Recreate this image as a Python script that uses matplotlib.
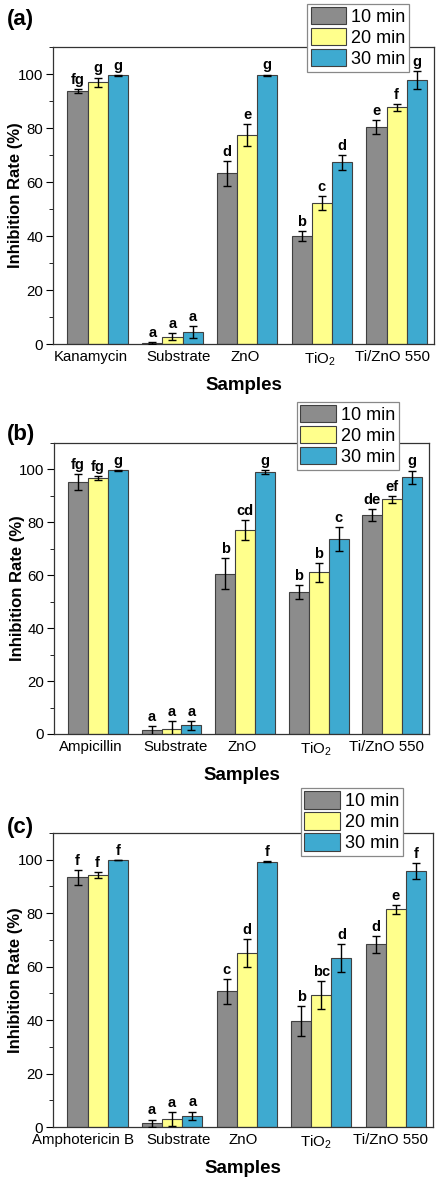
import numpy as np
import matplotlib
matplotlib.use("Agg")
import matplotlib.pyplot as plt
from matplotlib.ticker import MultipleLocator

plt.rcParams['font.family'] = ['Liberation Sans', 'DejaVu Sans']
plt.rcParams['mathtext.fontset'] = 'custom'
plt.rcParams['mathtext.rm'] = 'Liberation Sans'

times = ["10 min", "20 min", "30 min"]
colors = ["#8c8c8c", "#ffff8c", "#3eaad0"]

# panel (a)
samples_a = ["Kanamycin", "Substrate", "ZnO", "TiO$_2$", "Ti/ZnO 550"]
mean_a = [[93.7, 0.4, 63.2, 39.9, 80.4],
          [97.0, 2.7, 77.3, 52.3, 87.6],
          [99.5, 4.3, 99.6, 67.3, 97.7]]
err_a = [[0.9, 0.3, 4.6, 1.8, 2.5],
         [1.7, 1.3, 4.1, 2.6, 1.2],
         [0.2, 2.2, 0.2, 2.7, 3.4]]
let_a = [["fg", "a", "d", "b", "e"],
         ["g", "a", "e", "c", "f"],
         ["g", "a", "g", "d", "g"]]

# panel (b)
samples_b = ["Ampicillin", "Substrate", "ZnO", "TiO$_2$", "Ti/ZnO 550"]
mean_b = [[95.3, 1.4, 60.6, 53.7, 82.8],
          [96.8, 2.0, 77.1, 61.1, 88.8],
          [99.7, 3.3, 99.1, 73.6, 97.1]]
err_b = [[2.9, 1.7, 5.9, 2.6, 2.4],
         [0.8, 2.8, 3.7, 3.6, 1.3],
         [0.2, 1.7, 0.8, 4.5, 2.5]]
let_b = [["fg", "a", "b", "b", "de"],
         ["fg", "a", "cd", "b", "ef"],
         ["g", "a", "g", "c", "g"]]

# panel (c)
samples_c = ["Amphotericin B", "Substrate", "ZnO", "TiO$_2$", "Ti/ZnO 550"]
mean_c = [[93.4, 1.4, 50.7, 39.7, 68.3],
          [94.3, 3.0, 65.0, 49.3, 81.4],
          [99.9, 4.2, 99.3, 63.3, 95.8]]
err_c = [[2.8, 1.4, 4.8, 5.5, 3.3],
         [1.0, 2.7, 5.2, 5.2, 1.6],
         [0.1, 1.6, 0.3, 5.3, 3.0]]
let_c = [["f", "a", "c", "b", "d"],
         ["f", "a", "d", "bc", "e"],
         ["f", "a", "f", "d", "f"]]

# tag, names, means, errs, letters, axes rect, legend anchor, tag y, tick label shifts (px)
panels = [
    ("(a)", samples_a, mean_a, err_a, let_a, [0.120, 0.7087, 0.864, 0.2515], (0.696, 0.997),
     0.9746, [-7, 6, -2, -2, -4]),
    ("(b)", samples_b, mean_b, err_b, let_b, [0.122, 0.3785, 0.851, 0.2464], (0.673, 0.660),
     0.6232, [-7, 4, -3, -3, -6]),
    ("(c)", samples_c, mean_c, err_c, let_c, [0.120, 0.0457, 0.862, 0.2490], (0.682, 0.333),
     0.2904, [-15, 6, -4, -5, -5]),
]

fig = plt.figure(figsize=(4.41, 11.81), dpi=100)
w = 0.27
x = np.arange(5)
px_per_group = 74.5

for tag, samples, means, errs, lets, rect, legpos, tag_y, shifts in panels:
    ax = fig.add_axes(rect)
    for i in range(3):
        pos = x + (i - 1) * w
        ax.bar(pos, means[i], w, color=colors[i], edgecolor="#404040", linewidth=0.8,
               label=times[i], zorder=2)
        ax.errorbar(pos, means[i], yerr=errs[i], fmt="none", ecolor="black",
                    elinewidth=1, capsize=3, capthick=1, zorder=3)
        for j in range(5):
            ax.annotate(lets[i][j], (pos[j], means[i][j] + errs[i][j]),
                        xytext=(0, 1.5), textcoords="offset points",
                        ha="center", va="bottom", fontsize=10.5, fontweight="bold")
    ax.set_xlim(-0.6, 4.5)
    ax.set_ylim(0, 110)
    # tick marks at group centres, labels on zero-length minor ticks (slightly shifted)
    ax.set_xticks(x)
    ax.set_xticklabels([])
    ax.set_xticks(x + np.array(shifts) / px_per_group, minor=True)
    ax.set_xticklabels(samples, minor=True, fontsize=10.8)
    ax.tick_params(axis="x", which="major", direction="in", length=5)
    ax.tick_params(axis="x", which="minor", direction="in", length=0, pad=4.5)
    ax.yaxis.set_minor_locator(MultipleLocator(10))
    ax.set_yticks([0, 20, 40, 60, 80, 100])
    ax.tick_params(axis="y", which="major", direction="out", length=5, labelsize=10.8, pad=2)
    ax.tick_params(axis="y", which="minor", direction="out", length=3)
    for s in ax.spines.values():
        s.set_linewidth(0.9)
        s.set_color("#333333")
    ax.set_xlabel("Samples", fontsize=13.5, fontweight="bold", labelpad=6.5)
    ax.set_ylabel("Inhibition Rate (%)", fontsize=12, fontweight="bold")
    ax.yaxis.set_label_coords(-0.078, 0.5)
    fig.text(0.016, tag_y, tag, fontsize=16, fontweight="bold", ha="left", va="bottom")
    leg = ax.legend(loc="upper left", bbox_to_anchor=legpos, bbox_transform=fig.transFigure,
                    fontsize=13, frameon=True, fancybox=False, edgecolor="#888888",
                    framealpha=1, handlelength=1.95, handleheight=1.1, labelspacing=0.12,
                    borderpad=0.2, handletextpad=0.3, borderaxespad=0)
    leg.get_frame().set_linewidth(0.9)
    leg.set_zorder(10)

fig.savefig("out.png", dpi=100)
